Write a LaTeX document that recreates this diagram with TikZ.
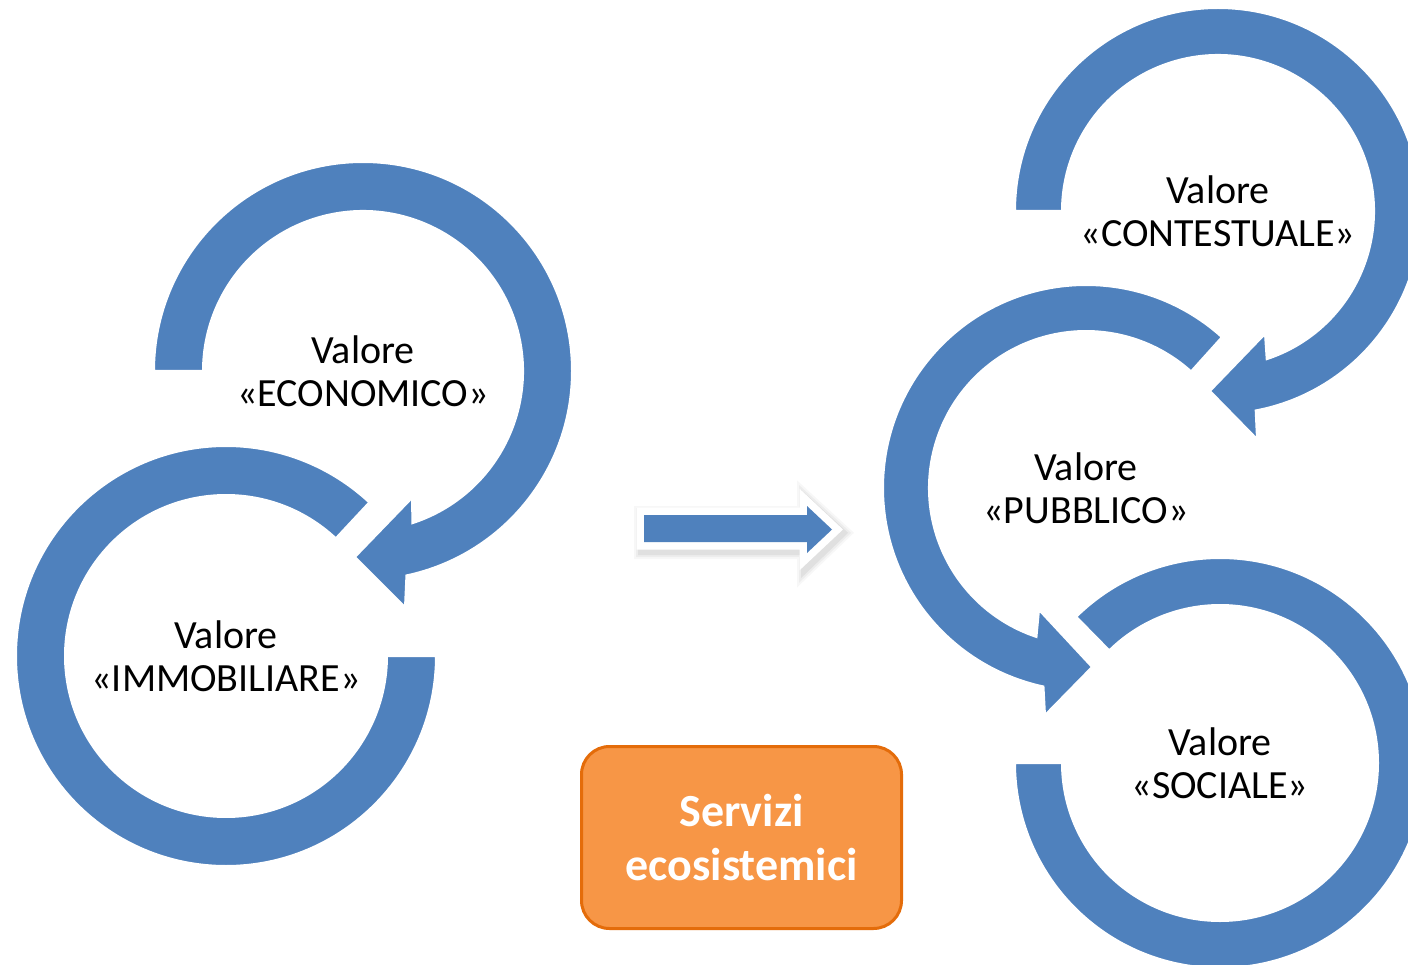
\documentclass[tikz,border=0pt]{standalone}
\usepackage{fontspec}
\setmainfont{Carlito}
\usetikzlibrary{calc}
\definecolor{ringblue}{RGB}{79,129,189}
\definecolor{boxorange}{RGB}{247,150,70}
\definecolor{boxedge}{RGB}{228,108,10}
\tikzset{
  ring/.style={fill=ringblue, draw=white, line width=2pt, line join=miter},
  lbl/.style={align=center, text=black, font=\fontsize{40}{43}\selectfont, inner sep=0pt},
  servbox/.style={draw=boxedge, fill=boxorange, line width=3pt, rounded corners=28pt,
    minimum width=320pt, minimum height=182pt, align=center, text=white,
    font=\bfseries\fontsize{46}{54}\selectfont},
  bigarrow/.style={fill=ringblue, draw=white, line width=15pt, line join=miter},
  arrowshadow/.style={draw=black, fill=black, line join=miter}
}
\begin{document}
\begin{tikzpicture}[x=1pt,y=-1pt]
\useasboundingbox (0,0) rectangle (1408,965);
\fill[white] (0,0) rectangle (1408,965);
\coordinate (cE) at (363,371);
\coordinate (cI) at (226,656);
\coordinate (cC) at (1218,211);
\coordinate (cP) at (1086,488);
\coordinate (cS) at (1220,763);
\begin{scope}
\clip (0,0) rectangle (1408,965);
% IMMOBILIARE ring
\path[ring] ($(cI)+(0:210)$) arc[start angle=0, end angle=313, radius=210]
  -- ($(cI)+(313:161)$) arc[start angle=313, end angle=0, radius=161] -- cycle;
% ECONOMICO arrow
\path[ring] ($(cE)+(180:209)$) arc[start angle=180, end angle=438, radius=209]
  -- (405,607) -- (355,557) -- (412,498)
  -- ($(cE)+(432:160)$) arc[start angle=432, end angle=180, radius=160] -- cycle;
% SOCIALE ring
\path[ring] ($(cS)+(225.5:205)$) arc[start angle=225.5, end angle=540, radius=205]
  -- ($(cS)+(540:158)$) arc[start angle=540, end angle=225.5, radius=158] -- cycle;
% PUBBLICO arrow
\path[ring] ($(cP)+(-48:203)$) arc[start angle=-48, end angle=-257.9, radius=203]
  -- (1045,715) -- (1092,667) -- (1039,610)
  -- ($(cP)+(-251.6:157)$) arc[start angle=-251.6, end angle=-48, radius=157] -- cycle;
% CONTESTUALE arrow
\path[ring] ($(cC)+(180:203)$) arc[start angle=180, end angle=439.3, radius=203]
  -- (1257,439) -- (1210,391) -- (1265,334)
  -- ($(cC)+(431.8:156)$) arc[start angle=431.8, end angle=180, radius=156] -- cycle;
\end{scope}
% labels
\node[lbl] (tE) at (cE) {Valore\\«ECONOMICO»};
\node[lbl] (tI) at (cI) {Valore\\«IMMOBILIARE»};
\node[lbl] (tC) at (cC) {Valore\\«CONTESTUALE»};
\node[lbl] (tP) at (cP) {Valore\\«PUBBLICO»};
\node[lbl] (tS) at (cS) {Valore\\«SOCIALE»};
% middle block arrow with soft shadow
\foreach \w/\o in {26/0.03, 22/0.04, 18/0.05}{
  \path[arrowshadow, line width=\w pt, opacity=\o]
    (647,519) -- (810,519) -- (810,510) -- (835,533) -- (810,557) -- (810,546) -- (647,546) -- cycle;
}
\path[bigarrow] (644,515) -- (807,515) -- (807,506) -- (832,529.5) -- (807,553) -- (807,542) -- (644,542) -- cycle;
\path[fill=ringblue] (644,515) -- (807,515) -- (807,506) -- (832,529.5) -- (807,553) -- (807,542) -- (644,542) -- cycle;
% orange box
\node[servbox] (serv) at (741.5,837.5) {Servizi\\ecosistemici};
\end{tikzpicture}
\end{document}
